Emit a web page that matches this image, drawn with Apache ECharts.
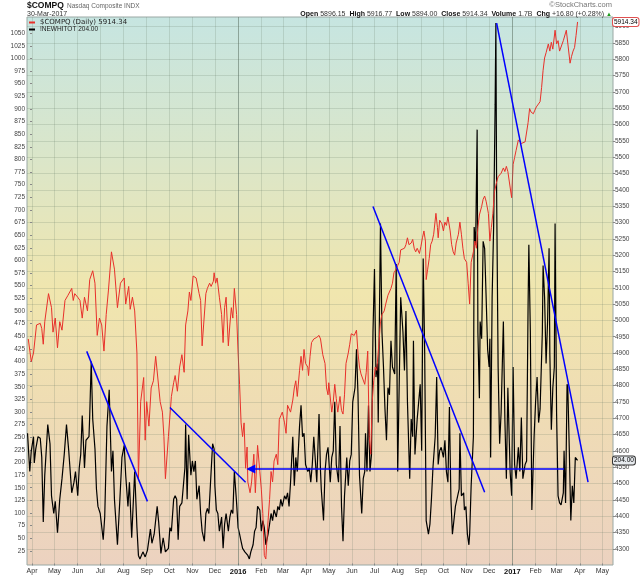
<!DOCTYPE html>
<html>
<head>
<meta charset="utf-8">
<title>$COMPQ vs !NEWHITOT</title>
<script src="https://cdn.jsdelivr.net/npm/echarts@6.0.0/dist/echarts.min.js"></script>
<style>
  html, body { margin: 0; padding: 0; background: #fff; }
  #chart { width: 640px; height: 576px; }
</style>
</head>
<body>
<div id="chart"></div>
<script>
// x values are calendar days counted from 1 Apr 2015
var monthDays = [0, 30, 61, 91, 122, 153, 183, 214, 244, 275, 306, 335, 366, 396, 427, 457, 488, 519, 549, 580, 610, 641, 672, 700, 731, 761];
var monthNames = ['Apr', 'May', 'Jun', 'Jul', 'Aug', 'Sep', 'Oct', 'Nov', 'Dec', '2016', 'Feb', 'Mar', 'Apr', 'May', 'Jun', 'Jul', 'Aug', 'Sep', 'Oct', 'Nov', 'Dec', '2017', 'Feb', 'Mar', 'Apr', 'May'];
var yearDays = [275, 641];

var newhiTicks = [];
for (var t = 25; t <= 1050; t += 25) newhiTicks.push(t);
var compqTicks = [];
for (t = 4300; t <= 5900; t += 50) compqTicks.push(t);

var compqName = '$COMPQ (Daily) 5914.34';
var newhiName = '!NEWHITOT 204.00';
var compqLast = 5914.34;
var newhiLast = 204;

var quoteLabels = ['Open', 'High', 'Low', 'Close', 'Volume', 'Chg'];
var quoteValues = ['5896.15', '5916.77', '5894.00', '5914.34', '1.7B', '+16.80 (+0.28%)'];

// Nasdaq Composite, daily close (right axis)
var compq = [
  [-5,4943],[-1,4874],[2,4900],[6,4986],[11,4991],[13,4975],[15,4927],[17,4996],[22,5082],[26,5039],
  [28,4964],[31,5007],[34,4916],[37,4996],[40,4970],[44,5061],[48,5077],[53,5098],[55,5061],[57,5082],
  [61,5071],[64,5061],[67,5007],[70,5071],[74,5029],[77,5125],[81,5152],[84,5114],[87,4954],[90,5007],
  [93,4986],[96,4906],[99,5018],[102,5093],[106,5210],[110,5157],[114,5039],[118,5114],[123,5130],[125,5050],
  [129,5104],[131,5034],[134,5071],[137,5029],[140,4900],[142,4515],[145,4751],[149,4825],[151,4633],[153,4751],
  [156,4676],[159,4793],[162,4815],[165,4890],[167,4884],[171,4751],[174,4719],[176,4644],[178,4515],[182,4644],
  [186,4767],[189,4809],[191,4831],[194,4783],[197,4857],[200,4895],[203,4841],[205,4986],[208,5029],[210,5087],
  [212,5061],[215,5136],[219,5130],[220,5136],[223,5082],[225,5061],[227,4922],[229,4986],[232,5082],[234,5098],
  [237,5114],[239,5104],[242,5120],[243,5146],[245,5114],[247,5130],[250,5071],[253,5018],[255,4932],[257,5039],
  [259,5071],[262,4922],[264,4986],[266,5039],[268,5007],[270,5098],[273,5018],[275,4900],[277,4804],[279,4686],
  [281,4644],[283,4686],[285,4547],[287,4612],[288,4505],[291,4472],[293,4505],[296,4590],[298,4472],[301,4617],
  [304,4537],[306,4483],[308,4408],[310,4280],[312,4269],[315,4387],[317,4451],[319,4537],[321,4505],[323,4569],
  [326,4590],[328,4558],[330,4697],[332,4708],[334,4719],[337,4686],[339,4654],[341,4740],[343,4745],[345,4719],
  [348,4756],[350,4793],[352,4815],[354,4767],[357,4847],[359,4890],[361,4847],[363,4911],[365,4868],[368,4857],
  [369,4831],[371,4890],[373,4932],[376,4943],[380,4948],[383,4954],[385,4943],[388,4895],[391,4868],[393,4793],
  [395,4772],[396,4809],[400,4719],[402,4751],[404,4804],[406,4761],[408,4719],[411,4767],[413,4724],[415,4713],
  [417,4772],[419,4868],[422,4900],[424,4927],[426,4959],[428,4964],[430,4954],[433,4970],[435,4900],[437,4857],
  [439,4836],[441,4841],[444,4804],[446,4841],[448,4906],[450,4644],[452,4590],[454,4751],[456,4815],[458,4857],
  [460,4847],[463,4932],[465,4996],[467,5018],[470,5029],[472,5050],[475,5077],[477,5082],[479,5098],[481,5114],
  [483,5146],[486,5157],[488,5168],[490,5178],[492,5216],[494,5210],[497,5221],[499,5232],[501,5253],[503,5232],
  [506,5237],[508,5248],[510,5221],[512,5210],[514,5221],[517,5205],[519,5227],[521,5253],[523,5274],[525,5243],
  [526,5125],[528,5157],[530,5189],[532,5232],[534,5243],[536,5264],[539,5328],[541,5285],[542,5253],[544,5307],
  [547,5296],[549,5274],[551,5301],[553,5291],[555,5317],[558,5274],[560,5232],[562,5210],[564,5200],[566,5237],
  [569,5264],[571,5301],[573,5264],[575,5221],[577,5189],[580,5178],[582,5114],[584,5050],[586,5178],[589,5210],
  [591,5243],[593,5221],[595,5285],[597,5323],[600,5349],[602,5371],[604,5381],[606,5365],[609,5328],[611,5243],
  [613,5285],[615,5328],[617,5392],[620,5424],[622,5440],[624,5435],[626,5451],[629,5467],[631,5456],[633,5472],
  [635,5456],[637,5424],[640,5376],[642,5478],[644,5499],[646,5521],[649,5553],[651,5558],[653,5542],[655,5537],
  [658,5547],[660,5547],[662,5606],[664,5649],[666,5638],[669,5633],[671,5644],[673,5654],[675,5660],[678,5670],
  [680,5713],[682,5766],[684,5804],[686,5820],[689,5847],[691,5825],[693,5852],[695,5831],[698,5889],[700,5847],
  [702,5857],[704,5825],[706,5825],[709,5857],[711,5863],[713,5889],[715,5889],[718,5788],[720,5809],[722,5825],
  [724,5836],[726,5873],[728,5914.34]
];

// total new highs (left axis)
var newhi = [
  [-6,258],[-3,182],[-1,223],[2,251],[3,199],[5,227],[8,251],[11,248],[13,210],[15,82],
  [17,175],[21,275],[24,237],[26,134],[29,99],[31,123],[34,61],[37,127],[40,168],[43,216],
  [46,275],[49,223],[53,140],[56,161],[58,182],[61,134],[63,189],[65,216],[67,293],[70,189],
  [72,244],[76,251],[77,293],[79,400],[81,286],[84,227],[86,147],[88,113],[91,99],[95,47],
  [97,92],[100,272],[103,344],[106,182],[108,223],[110,127],[114,37],[117,120],[120,210],[123,234],
  [125,175],[128,113],[130,161],[133,51],[137,182],[140,71],[142,16],[144,9],[148,23],[151,13],
  [154,26],[158,68],[160,40],[163,58],[167,113],[169,82],[172,20],[175,51],[178,23],[182,30],
  [184,71],[186,64],[189,127],[191,134],[193,127],[195,47],[197,113],[200,120],[202,123],[204,189],
  [205,275],[207,127],[209,255],[212,175],[214,203],[216,182],[218,203],[220,127],[223,154],[225,99],
  [227,64],[230,44],[232,99],[234,109],[236,99],[239,182],[241,237],[243,227],[244,154],[246,106],
  [248,99],[250,64],[253,92],[255,30],[257,78],[259,99],[262,64],[264,92],[266,106],[268,99],
  [270,182],[273,120],[275,71],[277,58],[279,44],[281,30],[284,23],[286,26],[288,16],[290,9],
  [292,23],[295,37],[297,64],[299,71],[301,113],[304,106],[306,64],[308,85],[310,71],[312,37],
  [315,58],[317,78],[319,99],[321,85],[323,106],[326,92],[328,113],[330,106],[332,127],[334,113],
  [337,134],[339,127],[341,140],[343,113],[345,161],[348,251],[350,154],[352,210],[354,182],[357,272],
  [359,313],[361,251],[363,258],[365,196],[368,182],[370,189],[372,161],[374,196],[376,251],[380,161],
  [382,251],[383,296],[385,182],[386,147],[389,85],[391,182],[393,216],[395,230],[398,161],[400,210],
  [402,223],[404,320],[406,196],[409,161],[411,272],[413,113],[415,44],[417,134],[420,210],[422,154],
  [424,203],[426,216],[428,320],[431,348],[433,424],[435,334],[437,175],[440,99],[442,168],[444,182],
  [445,258],[447,182],[449,313],[451,182],[453,216],[455,458],[457,583],[459,369],[461,396],[462,279],
  [465,673],[467,458],[469,389],[471,306],[473,244],[475,348],[477,334],[479,441],[481,389],[484,375],
  [486,593],[488,182],[490,355],[492,527],[495,458],[497,382],[499,500],[501,320],[504,168],[506,286],
  [508,251],[509,441],[511,216],[514,286],[516,320],[518,355],[520,223],[522,604],[524,417],[526,85],
  [529,58],[531,78],[533,127],[535,189],[538,251],[540,369],[542,196],[544,223],[546,230],[549,210],
  [551,244],[553,182],[555,161],[557,310],[559,127],[561,58],[563,85],[565,113],[568,134],[570,147],
  [571,258],[573,134],[576,140],[577,106],[579,113],[581,58],[583,37],[584,58],[586,154],[589,251],
  [590,666],[592,631],[594,859],[595,458],[597,327],[598,479],[600,445],[602,638],[604,624],[606,527],
  [608,424],[610,389],[611,445],[612,210],[614,527],[616,666],[618,908],[619,1070],[620,735],[622,389],
  [624,237],[626,299],[629,479],[631,286],[633,168],[635,348],[638,182],[640,134],[642,389],[644,196],
  [646,168],[649,230],[651,182],[653,289],[655,168],[658,196],[660,203],[662,514],[663,631],[665,458],
  [667,106],[670,251],[672,320],[674,369],[676,279],[678,306],[681,458],[682,590],[684,527],[686,396],
  [688,479],[690,624],[691,417],[693,265],[695,348],[697,389],[698,673],[700,299],[702,134],[704,120],
  [706,116],[709,140],[710,223],[712,120],[714,355],[715,348],[717,223],[719,85],[721,154],[723,120],
  [725,210],[728,204]
];

// hand drawn trend lines, in left-axis units
var trendLines = [
  [[73, 420], [154, 123]],
  [[184, 309], [285, 161]],
  [[455, 707], [604, 141]],
  [[620, 1070], [742, 161]]
];
var supportLine = [[292, 187], [710, 187]];

var xMin = -6.7, xMax = 775.3;
var newhiMin = -3, newhiMax = 1082;
var compqMin = 4250.6, compqMax = 5929.5;

var gridColor = 'rgba(100,120,100,0.2)';
var blue = '#0000ff';
var sans = 'Liberation Sans, Arial, sans-serif';

function plain(v) { return String(v); }

function quoteText() {
  var parts = [];
  for (var i = 0; i < quoteLabels.length; i++) {
    parts.push('{l|' + quoteLabels[i] + '} {v|' + quoteValues[i] + '}');
  }
  return parts.join('  ') + ' {up|▲}';
}

function tagLabel(text, border, fill) {
  return {
    show: true, position: 'end', distance: 0, formatter: text,
    fontSize: 6.5, fontFamily: sans, color: '#000',
    backgroundColor: fill, borderColor: border, borderWidth: 1, borderRadius: 2,
    padding: [1, 1, 0, 1]
  };
}

function buildSeries() {
  var list = [];
  var yearLine = { color: 'rgba(90,110,100,0.45)', width: 1, type: 'solid' };
  list.push({
    name: newhiName,
    type: 'line',
    yAxisIndex: 0,
    data: newhi,
    symbol: 'none',
    lineStyle: { color: '#000', width: 1.2 },
    itemStyle: { color: '#000' },
    z: 3,
    markLine: {
      silent: true,
      symbol: 'none',
      animation: false,
      data: [
        { xAxis: yearDays[0], lineStyle: yearLine, label: { show: false } },
        { xAxis: yearDays[1], lineStyle: yearLine, label: { show: false } },
        { yAxis: newhiLast, lineStyle: { color: 'rgba(0,0,0,0)', width: 0 }, label: tagLabel('204.00', '#333', '#e6eaee') }
      ]
    }
  });
  list.push({
    name: compqName,
    type: 'line',
    yAxisIndex: 1,
    data: compq,
    symbol: 'none',
    lineStyle: { color: '#e8302a', width: 1 },
    itemStyle: { color: '#e8302a' },
    z: 4,
    markLine: {
      silent: true,
      symbol: 'none',
      animation: false,
      data: [
        { yAxis: compqLast, lineStyle: { color: 'rgba(0,0,0,0)', width: 0 }, label: tagLabel('5914.34', '#e05050', '#fff') }
      ]
    }
  });
  trendLines.forEach(function (seg) {
    list.push({
      type: 'line', yAxisIndex: 0, data: seg, symbol: 'none', z: 5,
      lineStyle: { color: blue, width: 1.5 }, itemStyle: { color: blue }
    });
  });
  list.push({
    type: 'line', yAxisIndex: 0, z: 5,
    symbol: 'none', showSymbol: true,
    data: [
      { value: supportLine[0], symbol: 'triangle', symbolSize: [9, 9], symbolRotate: 90 },
      supportLine[1]
    ],
    lineStyle: { color: blue, width: 1.5 },
    itemStyle: { color: blue }
  });
  return list;
}

var chart = echarts.init(document.getElementById('chart'), null, { renderer: 'canvas' });

var option = {
  animation: false,
  textStyle: { fontFamily: sans },
  // header lines above the plot
  graphic: [
    { type: 'text', x: 27, y: 6, style: { text: '$COMPQ', fill: '#111', font: 'bold 8.5px ' + sans, align: 'left', verticalAlign: 'middle' } },
    { type: 'text', x: 67, y: 6.5, style: { text: 'Nasdaq Composite INDX', fill: '#666', font: '6.5px ' + sans, align: 'left', verticalAlign: 'middle' } },
    { type: 'text', x: 27, y: 14.5, style: { text: '30-Mar-2017', fill: '#333', font: '7px ' + sans, align: 'left', verticalAlign: 'middle' } },
    { type: 'text', x: 612, y: 5, style: { text: '\u00a9StockCharts.com', fill: '#777', font: '7.5px ' + sans, align: 'right', verticalAlign: 'middle' } },
    {
      type: 'text', x: 612, y: 14.5,
      style: {
        text: quoteText(), align: 'right', verticalAlign: 'middle', font: '7px ' + sans,
        rich: {
          l: { fontSize: 7, fontWeight: 'bold', fill: '#111', fontFamily: sans },
          v: { fontSize: 7, fontWeight: 'normal', fill: '#333', fontFamily: sans },
          up: { fontSize: 6, fill: '#1a9a1a', fontFamily: sans }
        }
      }
    }
  ],
  legend: {
    left: 29, top: 19, orient: 'vertical', padding: 0, itemGap: 0,
    itemWidth: 6, itemHeight: 2, icon: 'rect', selectedMode: false,
    data: [compqName, newhiName],
    formatter: function (n) { return n === compqName ? '{a|' + n + '}' : '{b|' + n + '}'; },
    textStyle: { rich: {
      a: { fontFamily: 'DejaVu Sans', fontSize: 7, color: '#222', lineHeight: 8 },
      b: { fontSize: 6.5, color: '#222', lineHeight: 7 }
    } }
  },
  grid: {
    left: 27, right: 27, top: 17, bottom: 11,
    show: true,
    borderColor: '#9aa8a4', borderWidth: 1,
    backgroundColor: new echarts.graphic.LinearGradient(0, 0, 0, 1, [
      { offset: 0, color: '#c6e5e1' },
      { offset: 0.25, color: '#dae6ca' },
      { offset: 0.5, color: '#f0e6ae' },
      { offset: 0.72, color: '#efdcb4' },
      { offset: 1, color: '#ecd2c0' }
    ])
  },
  xAxis: {
    type: 'value', min: xMin, max: xMax,
    axisLine: { show: false },
    axisTick: { show: true, customValues: monthDays, length: 2, lineStyle: { color: '#888' } },
    axisLabel: {
      customValues: monthDays, fontSize: 7, color: '#333', margin: 3,
      formatter: function (v) {
        var s = monthNames[monthDays.indexOf(v)] || '';
        return /^\d{4}$/.test(s) ? '{y|' + s + '}' : s;
      },
      rich: { y: { fontSize: 7.5, fontWeight: 'bold', color: '#111' } }
    },
    splitLine: { show: true, lineStyle: { color: gridColor, width: 1 } }
  },
  yAxis: [
    {
      type: 'value', position: 'left', min: newhiMin, max: newhiMax,
      axisLine: { show: false },
      axisTick: { show: true, customValues: newhiTicks, length: 2, lineStyle: { color: '#888' } },
      axisLabel: { customValues: newhiTicks, fontSize: 6.5, color: '#444', margin: 2, formatter: plain },
      splitLine: { show: false }
    },
    {
      type: 'value', position: 'right', min: compqMin, max: compqMax,
      axisLine: { show: false },
      axisTick: { show: true, customValues: compqTicks, length: 2, lineStyle: { color: '#888' } },
      axisLabel: { customValues: compqTicks, fontSize: 6.5, color: '#444', margin: 2, formatter: plain },
      splitLine: { show: true, lineStyle: { color: gridColor, width: 1 } }
    }
  ],
  series: buildSeries()
};

chart.setOption(option);
</script>
</body>
</html>
